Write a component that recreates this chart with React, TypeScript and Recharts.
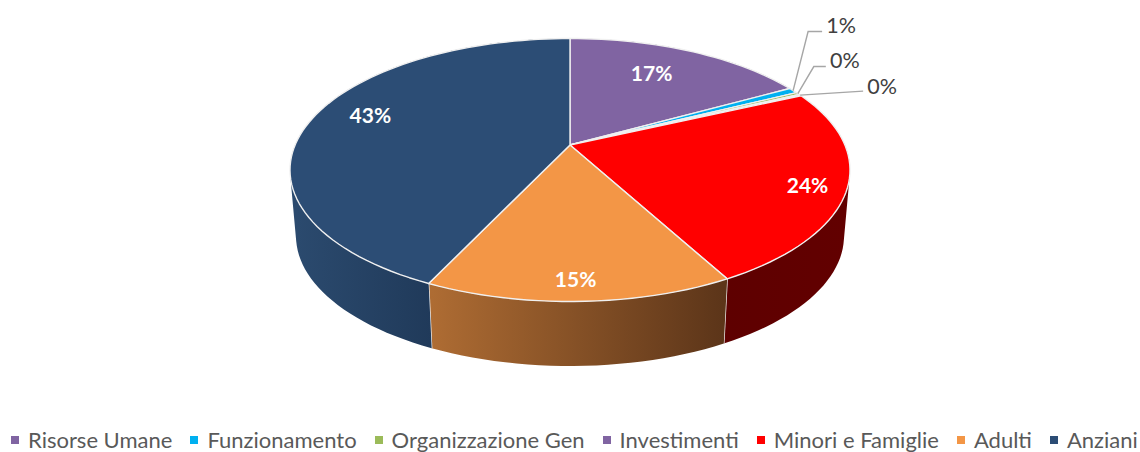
import React from "react";
import { PieChart, Pie, Legend } from "recharts";

const categories = ["Risorse Umane", "Funzionamento", "Organizzazione Gen", "Investimenti", "Minori e Famiglie", "Adulti", "Anziani"];
const shares = [16.9, 0.7, 0.3, 0.2, 24.0, 14.9, 43.0];
const topColors = ["#8064A2", "#00B0F0", "#9BBB59", "#8064A2", "#FF0000", "#F39646", "#2C4D75"];
const wallFrom = ["#4D3C61", "#006A90", "#5D7035", "#4D3C61", "#5E0000", "#AE6C33", "#2B4A6E"];
const wallTo = ["#4D3C61", "#006A90", "#5D7035", "#4D3C61", "#620000", "#5C3519", "#203A5A"];

const tableRows = categories.map((name, i) => ({ name, value: shares[i], fill: topColors[i], index: i }));

// perspective tilt of the disc
const TILT = 0.19;
const RY_RATIO = 131.5 / 280;
const BOTTOM_RX = 274 / 280;
const BOTTOM_RY = 130 / 280;
const BOTTOM_DROP = 66;
const SEAM = "#F0F0F0";

type P = { x: number; y: number };

function rimPoint(a: number, cx: number, cy: number, rx: number, ry: number): P {
  const r = (a * Math.PI) / 180;
  const u = Math.sin(r);
  const v = Math.cos(r);
  const den = 1 + TILT * v;
  return {
    x: cx + (rx * u * Math.sqrt(1 - TILT * TILT)) / den,
    y: cy - (ry * (v + TILT)) / den,
  };
}

function sweep(a0: number, a1: number): number[] {
  const n = Math.max(2, Math.ceil(Math.abs(a1 - a0) / 2));
  const out: number[] = [];
  for (let i = 0; i <= n; i++) out.push(a0 + ((a1 - a0) * i) / n);
  return out;
}

const toPath = (pts: P[]) => pts.map((p, i) => `${i ? "L" : "M"}${p.x.toFixed(2)},${p.y.toFixed(2)}`).join(" ");

function signedArea(q: P[]): number {
  let s = 0;
  for (let i = 0; i < q.length; i++) {
    const a = q[i];
    const b = q[(i + 1) % q.length];
    s += a.x * b.y - b.x * a.y;
  }
  return s;
}

function TopShape(props: any) {
  const { cx, cy, outerRadius, startAngle, endAngle, fill } = props;
  const rim = sweep(90 - startAngle, 90 - endAngle).map((a) => rimPoint(a, cx, cy, outerRadius, outerRadius * RY_RATIO));
  const apex = { x: cx, y: cy - outerRadius * RY_RATIO * TILT };
  return <path d={`${toPath([apex, ...rim])} Z`} fill={fill} stroke={SEAM} strokeWidth={1.4} strokeLinejoin="round" />;
}

function WallShape(props: any) {
  const { cx, cy, outerRadius, startAngle, endAngle, index } = props;
  const angles = sweep(90 - startAngle, 90 - endAngle);
  const topRy = outerRadius * RY_RATIO;
  const botRx = outerRadius * BOTTOM_RX;
  const botRy = outerRadius * BOTTOM_RY;
  const botCy = cy + BOTTOM_DROP;
  const top = angles.map((a) => rimPoint(a, cx, cy, outerRadius, topRy));
  const bot = angles.map((a) => rimPoint(a, cx, botCy, botRx, botRy));
  const quads: string[] = [];
  for (let i = 0; i + 1 < angles.length; i++) {
    const q = [top[i], top[i + 1], bot[i + 1], bot[i]];
    if (signedArea(q) < 0) q.reverse();
    quads.push(`${toPath(q)} Z`);
  }
  const front = bot.filter((_, i) => Math.cos((angles[i] * Math.PI) / 180) < 0);
  const xs = (front.length ? front : bot).map((p) => p.x);
  const id = `wall-${index}`;
  const endA = angles[angles.length - 1];
  const showSeam = Math.cos((endA * Math.PI) / 180) < 0;
  const last = angles.length - 1;
  return (
    <g>
      <defs>
        <linearGradient id={id} gradientUnits="userSpaceOnUse" x1={Math.min(...xs)} y1="0" x2={Math.max(...xs)} y2="0">
          <stop offset="0" stopColor={wallFrom[index]} />
          <stop offset="1" stopColor={wallTo[index]} />
        </linearGradient>
      </defs>
      <path d={quads.join(" ")} fill={`url(#${id})`} fillRule="nonzero" />
      {showSeam && <line x1={top[last].x} y1={top[last].y} x2={bot[last].x} y2={bot[last].y} stroke={SEAM} strokeWidth={1.4} />}
    </g>
  );
}

// label placement relative to each slice's rim midpoint: text offset and optional leader elbows
const labelPlacement = [
  { dx: -38, dy: 21, inside: true, leader: [] as number[][] },
  { dx: 48, dy: -66, inside: false, leader: [[15, -59], [29, -59]] },
  { dx: 47, dy: -34, inside: false, leader: [[16, -27], [28, -27]] },
  { dx: 82, dy: -9, inside: false, leader: [[63, -4]] },
  { dx: -40, dy: -3, inside: true, leader: [] as number[][] },
  { dx: -4, dy: -23, inside: true, leader: [] as number[][] },
  { dx: 58, dy: -4, inside: true, leader: [] as number[][] },
];

function SliceLabel(props: any) {
  const { cx, cy, outerRadius, midAngle, value, index } = props;
  const p = rimPoint(90 - midAngle, cx, cy, outerRadius, outerRadius * RY_RATIO);
  const place = labelPlacement[index];
  const pts = [p, ...place.leader.map(([dx, dy]) => ({ x: p.x + dx, y: p.y + dy }))];
  return (
    <g>
      {!place.inside && <path d={toPath(pts)} fill="none" stroke="#A6A6A6" strokeWidth={1.4} />}
      <text
        x={p.x + place.dx}
        y={p.y + place.dy}
        textAnchor="middle"
        dominantBaseline="central"
        fontFamily="Lato, sans-serif"
        fontSize={place.inside ? 21 : 21.5}
        fontWeight={place.inside ? 700 : 400}
        fill={place.inside ? "#FFFFFF" : "#404040"}
      >
        {`${Math.round(value)}%`}
      </text>
    </g>
  );
}

function LegendRow(props: any) {
  const items = (props.payload || []).filter((e: any) => e.type !== "none");
  return (
    <div style={{ display: "flex", paddingLeft: 11, fontFamily: "Lato, sans-serif", fontSize: 22, lineHeight: "26px", color: "#595959", whiteSpace: "nowrap" }}>
      {items.map((e: any) => (
        <span key={e.value} style={{ display: "inline-flex", alignItems: "center", marginRight: 18 }}>
          <span style={{ display: "inline-block", width: 8, height: 8, background: e.color, marginRight: 9 }} />
          {e.value}
        </span>
      ))}
    </div>
  );
}

export default function App() {
  return (
    <div style={{ position: "absolute", left: 0, top: 0, width: 1140, height: 452, background: "#fff" }}>
      <PieChart width={1140} height={452} margin={{ top: 0, right: 0, bottom: 0, left: 0 }}>
        <Pie data={tableRows} dataKey="value" nameKey="name" cx={570} cy={170} outerRadius={280} startAngle={90} endAngle={-270} stroke="none" legendType="none" shape={WallShape} isAnimationActive={false} />
        <Pie data={tableRows} dataKey="value" nameKey="name" cx={570} cy={170} outerRadius={280} startAngle={90} endAngle={-270} shape={TopShape} label={SliceLabel} labelLine={false} isAnimationActive={false} />
        <Legend content={LegendRow} itemSorter={null} wrapperStyle={{ left: 0, top: 427, width: 1140 }} />
      </PieChart>
    </div>
  );
}
